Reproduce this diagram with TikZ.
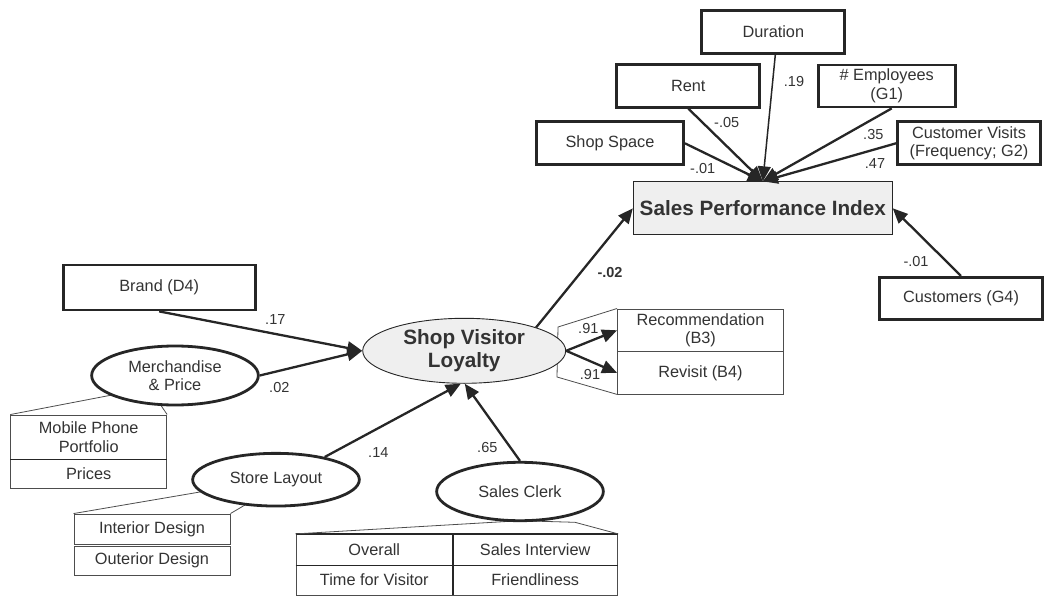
\documentclass[tikz,border=0pt]{standalone}
\usepackage{fontspec}
\setmainfont{Liberation Sans}
\usetikzlibrary{shapes.geometric,arrows.meta,backgrounds}

\definecolor{ink}{HTML}{262626}
\definecolor{txt}{HTML}{333333}
\definecolor{soft}{HTML}{EFEFEF}
\definecolor{rule}{HTML}{4D4D4D}

\newcommand\labfont{\fontsize{16.3}{18.5}\selectfont}
\newcommand\headfont{\fontsize{20.7}{23}\selectfont\bfseries}
\newcommand\coeffont{\fontsize{14.5}{16}\selectfont}

\tikzset{
  obsbox/.style={draw=ink, line width=2.8pt, fill=white, inner sep=0pt, align=center},
  itembox/.style={draw=rule, line width=0.9pt, fill=white, inner sep=0pt, align=center},
  latent/.style={ellipse, draw=ink, line width=2.8pt, fill=white, inner sep=0pt, align=center},
  construct/.style={ellipse, draw=ink, line width=0.9pt, fill=soft, inner sep=0pt, align=center, font=\headfont},
  link/.style={draw=ink, line width=2.3pt, -{Triangle[length=15pt,width=13pt]}},
  thinlink/.style={link, line width=1.5pt},
  coef/.style={font=\coeffont, inner sep=0pt},
  bracket/.style={draw=rule, line width=0.8pt},
}

\begin{document}
\begin{tikzpicture}[x=1pt, y=-1pt, text=txt, font=\labfont]
\useasboundingbox (0,0) rectangle (1044,596);

% ---- sales performance block ----
\node[obsbox, minimum width=143pt, minimum height=43pt] (dur) at (773.3,32) {Duration};
\node[obsbox, minimum width=143pt, minimum height=43pt] (rent) at (688.3,85.7) {Rent};
\node[obsbox, minimum width=137pt, minimum height=42pt] (emp) at (886.7,86) {\# Employees\\(G1)};
\node[obsbox, minimum width=147pt, minimum height=43pt] (space) at (610,143.3) {Shop Space};
\node[obsbox, minimum width=143pt, minimum height=43pt] (visits) at (969,143.3) {Customer Visits\\(Frequency; G2)};
\node[draw=ink, line width=0.9pt, fill=soft, inner sep=0pt, minimum width=259pt, minimum height=53pt, font=\headfont] (spi) at (762.8,208.3) {Sales Performance Index};
\node[obsbox, minimum width=163pt, minimum height=42pt] (cust) at (961,298.3) {Customers (G4)};

% ---- loyalty construct and its indicators ----
\node[itembox, minimum width=166pt, minimum height=42.7pt] (rec) at (700.5,330.3) {Recommendation\\(B3)};
\node[itembox, minimum width=166pt, minimum height=42.3pt] (rev) at (700.5,372.8) {Revisit (B4)};

\begin{pgfonlayer}{background}
  \draw[bracket] (rec.north west) -- (558,327) -- (557,377) -- (rev.south west);
\end{pgfonlayer}

\node[construct, minimum width=203pt, minimum height=65pt] (svl) at (464.2,350.8) {Shop Visitor\\Loyalty};

% ---- drivers ----
\node[obsbox, minimum width=192pt, minimum height=45pt] (brand) at (159.2,287.5) {Brand (D4)};

\node[itembox, minimum width=156pt, minimum height=44pt] (mpp) at (88.7,437) {Mobile Phone\\Portfolio};
\node[itembox, minimum width=156pt, minimum height=29.7pt] (prices) at (88.7,473.8) {Prices};
\draw[ink, line width=1.8pt] (mpp.south west) -- (mpp.south east);
\draw[bracket] (mpp.north west) -- (112,395) -- (160,404) -- (mpp.north east);
\node[latent, minimum width=166.7pt, minimum height=59pt] (merch) at (175,375.5) {Merchandise\\\& Price};

\node[itembox, minimum width=156pt, minimum height=30pt] (inter) at (152,529) {Interior Design};
\node[itembox, minimum width=156pt, minimum height=29.3pt] (outer) at (152,560.7) {Outerior Design};
\draw[bracket] (inter.north west) -- (201.7,491.7) -- (246.7,504) -- (inter.north east);
\node[latent, minimum width=166.7pt, minimum height=52.7pt] (store) at (276,479.7) {Store Layout};

\node[itembox, minimum width=156.7pt, minimum height=30.7pt] (overall) at (374.3,549.7) {Overall};
\node[itembox, minimum width=165pt, minimum height=30.7pt] (interview) at (535.2,549.7) {Sales Interview};
\node[itembox, minimum width=156.7pt, minimum height=30pt] (timev) at (374.3,580) {Time for Visitor};
\node[itembox, minimum width=165pt, minimum height=30pt] (friend) at (535.2,580) {Friendliness};
\draw[ink, line width=1.6pt] (overall.north west) -- (interview.north east);
\draw[ink, line width=1.6pt] (overall.south west) -- (interview.south east);
\draw[ink, line width=1.6pt] (overall.north east) -- (timev.south east);
\draw[bracket] (overall.north west) -- (520,520.7) -- (575,522.3) -- (interview.north east);
\node[latent, minimum width=166.7pt, minimum height=58.4pt] (clerk) at (520,491.5) {Sales Clerk};

% ---- structural paths ----
\draw[link] (space.east) -- (spi.north);
\draw[link] (rent.south) -- (spi.north);
\draw[thinlink] ([xshift=2pt]dur.south) -- (spi.north);
\draw[link] ([xshift=5pt]emp.south) -- (spi.north);
\draw[link] (visits.west) -- (spi.north);
\draw[link] (cust.north) -- (spi.east);
\draw[link] (svl.18) -- (spi.west);

\draw[link] (brand.south) -- (svl.west);
\draw[link] (merch.east) -- (svl.west);
\draw[link] (store.25) -- (svl.264);
\draw[link] (clerk.north) -- (svl.271);
\draw[link] (svl.east) -- (rec.west);
\draw[link] (svl.east) -- (rev.west);

% ---- path coefficients ----
\node[coef] (c1) at (794,81.7) {.19};
\node[coef] (c2) at (726.7,122.7) {-.05};
\node[coef] (c3) at (873.3,135) {.35};
\node[coef] (c4) at (875,164) {.47};
\node[coef] (c5) at (702.7,168.3) {-.01};
\node[coef, font=\coeffont\bfseries] (c6) at (610,272.7) {-.02};
\node[coef] (c7) at (916,261.7) {-.01};
\node[coef] (c8) at (275.3,319.3) {.17};
\node[coef] (c9) at (279.3,387.3) {.02};
\node[coef] (c10) at (588.3,328.3) {.91};
\node[coef] (c11) at (590,375) {.91};
\node[coef] (c12) at (378.3,452.7) {.14};
\node[coef] (c13) at (487.3,447.7) {.65};
\end{tikzpicture}
\end{document}
